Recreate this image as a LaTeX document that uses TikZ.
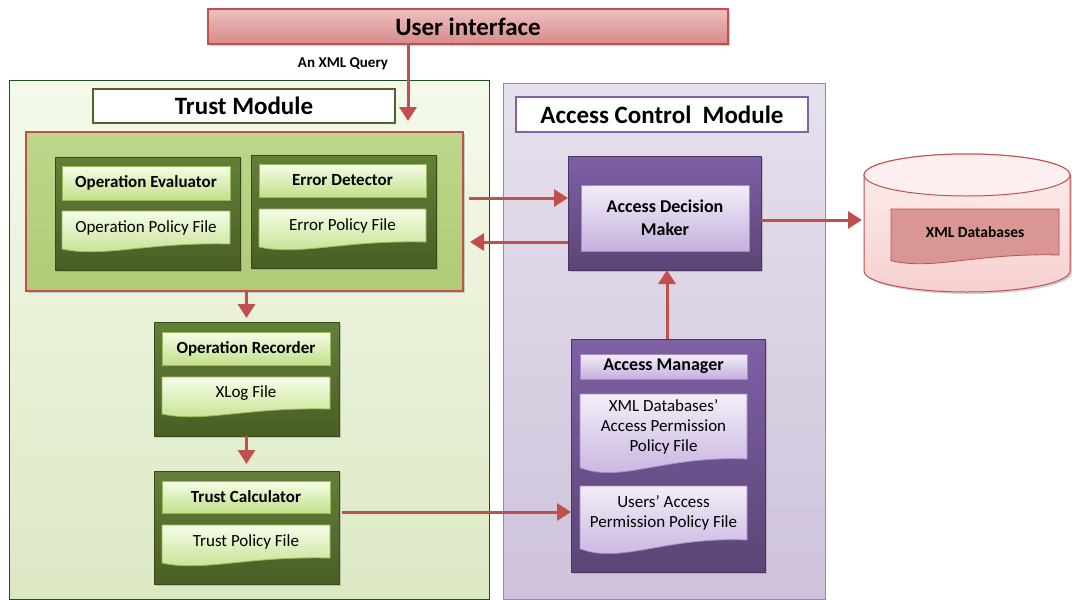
\documentclass[tikz,border=0pt]{standalone}
\usepackage{fontspec}
\setmainfont{Carlito}
\usetikzlibrary{arrows.meta,shadows,calc}
\definecolor{redline}{HTML}{C0504D}
\definecolor{uitop}{HTML}{EDC0C0}
\definecolor{uibot}{HTML}{D88A8A}
\definecolor{tmtop}{HTML}{F4FAEA}
\definecolor{tmbot}{HTML}{DCE8C4}
\definecolor{tmline}{HTML}{1E4D1E}
\definecolor{olive}{HTML}{4F6228}
\definecolor{redfilltop}{HTML}{BDD78B}
\definecolor{redfillbot}{HTML}{AFCB76}
\definecolor{grtop}{HTML}{62803A}
\definecolor{grbot}{HTML}{4A5E24}
\definecolor{grline}{HTML}{3A4A1A}
\definecolor{lgtop}{HTML}{F6FDE8}
\definecolor{lgbot}{HTML}{C3DF8A}
\definecolor{lgline}{HTML}{9BBB59}
\definecolor{acmtop}{HTML}{E7E0ED}
\definecolor{acmbot}{HTML}{CEC3DB}
\definecolor{acmline}{HTML}{9A86B6}
\definecolor{purp}{HTML}{8064A2}
\definecolor{pgtop}{HTML}{7E60A6}
\definecolor{pgbot}{HTML}{5B4576}
\definecolor{pgline}{HTML}{47365E}
\definecolor{lptop}{HTML}{F3EEF9}
\definecolor{lpbot}{HTML}{C4B0DE}
\definecolor{lpline}{HTML}{A58CC6}
\definecolor{cyltop}{HTML}{FDEFEF}
\definecolor{cylbot}{HTML}{F7D0D0}
\definecolor{dbfill}{HTML}{D99694}
\definecolor{dbline}{HTML}{B65450}
\newcommand\docpath[6]{%
  \path[#6] (#1,#2) -- (#3,#2) -- (#3,#4)
    .. controls ({#1+0.5*(#3-#1)},{#4-0.25*#5}) and ({#1+0.25*(#3-#1)},{#4+1.75*#5})
    .. (#1,{#4+0.625*#5}) -- cycle;}
\tikzset{
  box/.style={rectangle, inner sep=0pt, outer sep=0pt},
  shad/.style={drop shadow={shadow xshift=2pt, shadow yshift=-2pt, opacity=0.35}},
  uibox/.style={box, draw=redline, line width=1.2pt, top color=uitop, bottom color=uibot, shad,
    font=\fontsize{25}{28}\selectfont\bfseries},
  tmouter/.style={box, draw=tmline, line width=1pt, top color=tmtop, bottom color=tmbot},
  tmtitle/.style={box, draw=olive, line width=2.5pt, fill=white, font=\fontsize{25}{28}\selectfont\bfseries},
  redbox/.style={box, draw=redline, line width=1.3pt, top color=redfilltop, bottom color=redfillbot, shad},
  ggroup/.style={box, draw=grline, line width=0.8pt, top color=grtop, bottom color=grbot, shad},
  gtitle/.style={box, draw=lgline, line width=0.8pt, top color=lgtop, bottom color=lgbot,
    font=\fontsize{17}{20}\selectfont\bfseries},
  gdoc/.style={draw=lgline, line width=0.8pt, top color=lgtop, bottom color=lgbot},
  doctext/.style={inner sep=0pt, align=center, font=\fontsize{17}{20}\selectfont},
  acmouter/.style={box, draw=acmline, line width=1pt, top color=acmtop, bottom color=acmbot},
  acmtitle/.style={box, draw=purp, line width=2.5pt, fill=white, font=\fontsize{25}{28}\selectfont\bfseries},
  pgroup/.style={box, draw=pgline, line width=0.8pt, top color=pgtop, bottom color=pgbot, shad},
  ptitle/.style={box, draw=lpline, line width=0.8pt, top color=lptop, bottom color=lpbot,
    font=\fontsize{18}{23}\selectfont\bfseries, align=center},
  pdoc/.style={draw=lpline, line width=0.8pt, top color=lptop, bottom color=lpbot},
  arr/.style={draw=redline, line width=3pt, -{Triangle[width=17pt,length=14pt]}},
}
\begin{document}
\begin{tikzpicture}[x=1pt,y=-1pt]
\useasboundingbox (0,0) rectangle (1072,600);

% User interface
\node[uibox, minimum width=520pt, minimum height=35pt] (ui) at (468,26.5) {User interface};
\node[font=\fontsize{15}{18}\selectfont\bfseries, inner sep=0pt] (q) at (343,64) {An XML Query};

% Trust module
\node[tmouter, minimum width=480pt, minimum height=519pt] (tm) at (249,339.5) {};
\node[tmtitle, minimum width=302pt, minimum height=34pt] (tmt) at (244,106) {Trust Module};
\node[redbox, minimum width=437pt, minimum height=159pt] (red) at (244.5,211.5) {};

\node[ggroup, minimum width=185pt, minimum height=113pt] (oeg) at (147.5,213.5) {};
\node[gtitle, minimum width=168pt, minimum height=34pt] (oet) at (146,183) {Operation Evaluator};
\docpath{62}{211}{230}{244}{8}{gdoc}
\node[doctext] (opdoc) at (146,227.5) {Operation Policy File};

\node[ggroup, minimum width=185pt, minimum height=113pt] (edg) at (343.5,211.5) {};
\node[gtitle, minimum width=167pt, minimum height=33pt] (edt) at (342.5,180.5) {Error Detector};
\docpath{259}{209}{426}{242}{8}{gdoc}
\node[doctext] (erdoc) at (342.5,225.5) {Error Policy File};

\node[ggroup, minimum width=185pt, minimum height=114pt] (org) at (246.5,379) {};
\node[gtitle, minimum width=168pt, minimum height=33pt] (ort) at (246,348.5) {Operation Recorder};
\docpath{162}{377}{330}{409}{8}{gdoc}
\node[doctext] (xlog) at (246,393) {XLog File};

\node[ggroup, minimum width=185pt, minimum height=113pt] (tcg) at (246.5,527.5) {};
\node[gtitle, minimum width=168pt, minimum height=32pt] (tct) at (246,497) {Trust Calculator};
\docpath{162}{525}{330}{558}{8}{gdoc}
\node[doctext] (tpdoc) at (246,541.5) {Trust Policy File};

% Access control module
\node[acmouter, minimum width=322pt, minimum height=516pt] (acm) at (664,341) {};
\node[acmtitle, minimum width=292pt, minimum height=35pt] (acmt) at (662,114.5) {Access Control~~Module};

\node[pgroup, minimum width=193pt, minimum height=114pt] (admg) at (664.5,213) {};
\node[ptitle, minimum width=168pt, minimum height=66pt] (admt) at (665,218) {Access Decision\\Maker};

\node[pgroup, minimum width=194pt, minimum height=233pt] (amg) at (668,455.5) {};
\node[ptitle, minimum width=167pt, minimum height=25pt] (amt) at (663.5,366.5) {Access Manager};
\docpath{580}{394}{747}{459}{14}{pdoc}
\node[doctext] (amd1) at (663.5,427) {XML Databases’\\Access Permission\\Policy File};
\docpath{580}{486}{747}{540}{14}{pdoc}
\node[doctext] (amd2) at (663.5,513) {Users’ Access\\Permission Policy File};

% Database cylinder
\path[draw=redline, line width=1pt, top color=cyltop, bottom color=cylbot, shad]
  (864,175) -- (864,271) arc[start angle=180, end angle=0, x radius=103, y radius=21]
  -- (1070,175) arc[start angle=0, end angle=-180, x radius=103, y radius=21] -- cycle;
\draw[redline, line width=1pt, fill=cyltop] (967,175) ellipse[x radius=103, y radius=21];
\node[box, minimum width=206pt, minimum height=138pt] (db) at (967,223) {};
\docpath{891}{209}{1059}{255}{9}{draw=dbline, line width=0.8pt, fill=dbfill}
\node[doctext, font=\fontsize{15.5}{18}\selectfont\bfseries] (dbdoc) at (975,232) {XML Databases};

% Connectors
\coordinate (qx) at (408,0);
\draw[arr] (ui.south -| qx) -- ([yshift=11pt]red.north -| qx);
\draw[arr] ([xshift=6pt,yshift=13.5pt]red.east) -- ([yshift=13.5pt]red.east -| admg.west);
\draw[arr] ([yshift=-29pt]admg.west) -- ([xshift=7pt,yshift=-29pt]admg.west -| red.east);
\draw[arr] ([yshift=-7pt]admg.east) -- ([xshift=-2pt,yshift=-7pt]admg.east -| db.west);
\coordinate (amx) at (667,0);
\draw[arr] (amg.north -| amx) -- (admg.south -| amx);
\draw[arr] (red.south -| org.north) -- ([yshift=4pt]org.north);
\draw[arr] (org.south) -- ([yshift=7pt]tcg.north);
\draw[arr] ([xshift=3pt,yshift=15.5pt]tcg.east) -- ([yshift=15.5pt]tcg.east -| amg.west);
\end{tikzpicture}
\end{document}
